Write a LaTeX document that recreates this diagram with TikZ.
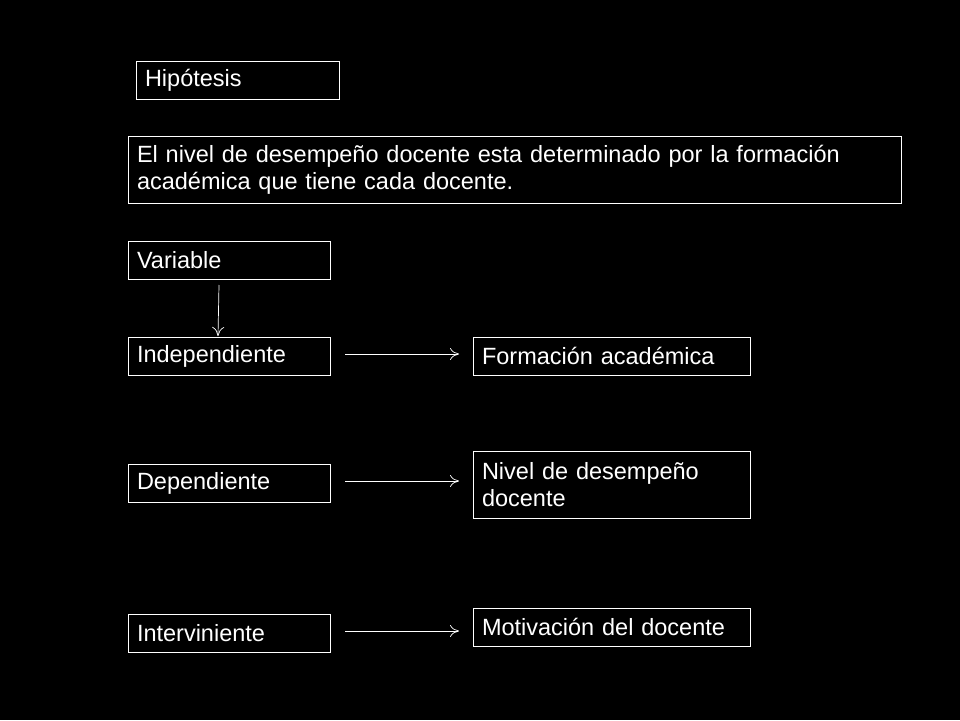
\documentclass[tikz,border=0pt]{standalone}
\usepackage{fontspec}
\setmainfont{Liberation Sans}
\usetikzlibrary{arrows.meta}
\begin{document}
\begin{tikzpicture}[x=1pt,y=-1pt,
  bx/.style={draw=white,line width=0.8pt,rectangle,inner xsep=9pt,inner ysep=0pt,text=white,
    font=\fontsize{23.5}{27}\selectfont,align=left},
  ar/.style={draw=white,line width=0.7pt,-{To[length=9pt,width=12pt]}}]
\fill[black] (0,0) rectangle (960,720);
\useasboundingbox (0,0) rectangle (960,720);
\node[bx,minimum width=203pt,minimum height=38pt,text width=185pt] (hip) at (237.5,80) {Hipótesis};
\node[bx,minimum width=773pt,minimum height=67pt,text width=755pt] (hyp) at (514.5,169.5) {El nivel de desempeño docente esta determinado por la formación\\académica que tiene cada docente.};
\node[bx,minimum width=202pt,minimum height=38pt,text width=184pt] (var) at (229,260) {Variable};
\node[bx,minimum width=202pt,minimum height=38pt,text width=184pt] (ind) at (229,356) {Independiente};
\node[bx,minimum width=277pt,minimum height=38pt,text width=259pt] (form) at (611.5,356) {Formación académica};
\node[bx,minimum width=202pt,minimum height=38pt,text width=184pt] (dep) at (229,483) {Dependiente};
\node[bx,minimum width=277pt,minimum height=67pt,text width=259pt] (niv) at (611.5,484.5) {Nivel de desempeño\\docente};
\node[bx,minimum width=202pt,minimum height=38pt,text width=184pt] (int) at (229,633) {Interviniente};
\node[bx,minimum width=277pt,minimum height=38pt,text width=259pt] (mot) at (611.5,627) {Motivación del docente};
\coordinate (v1) at (219,285);
\coordinate (v2) at (218,336);
\draw[ar] (v1) -- (v2);
\coordinate (a1) at (345,354); \coordinate (a2) at (459,354);
\coordinate (b1) at (345,481); \coordinate (b2) at (459,481);
\coordinate (c1) at (345,631); \coordinate (c2) at (459,631);
\draw[ar] (a1) -- (a2);
\draw[ar] (b1) -- (b2);
\draw[ar] (c1) -- (c2);
\end{tikzpicture}
\end{document}
